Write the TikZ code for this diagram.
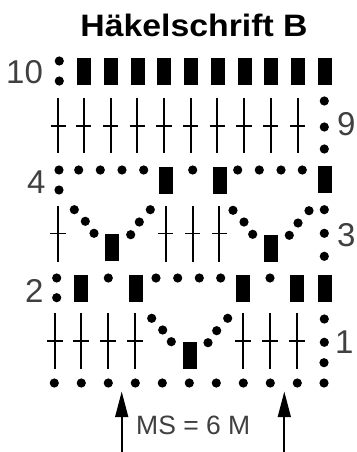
\documentclass[tikz,border=0pt]{standalone}
\usepackage{fontspec}
\setmainfont{Liberation Sans}
\tikzset{
  dotm/.style={circle,fill=black,draw=none,minimum size=9.2pt,inner sep=0pt},
  barm/.style={fill=black,draw=none},
  stline/.style={line width=1.7pt,black},
  crossl/.style={line width=1.4pt,black},
  arrowl/.style={line width=1.7pt,black},
  numl/.style={inner sep=0pt,font=\fontsize{33}{33}\selectfont,text=black!75},
  mslab/.style={inner sep=0pt,font=\fontsize{26.5}{26.5}\selectfont,text=black!75},
  titlel/.style={inner sep=0pt,xscale=1.09,font=\bfseries\fontsize{31}{31}\selectfont}
}
\newcommand{\dotsat}[1]{\foreach \px/\py in {#1} \node[dotm] at (\px,\py) {};}
\newcommand{\barsat}[3]{\foreach \px in {#1} \fill[barm] (\px,#2) rectangle (\px+14,#3);}
\newcommand{\stitches}[4]{\foreach \px in {#1} {\draw[stline] (\px,#2) -- (\px,#4);\draw[crossl] (\px-7.7,#3) -- (\px+7.7,#3);}}
\begin{document}
\begin{tikzpicture}[x=1pt,y=-1pt]
\useasboundingbox (0,0) rectangle (356,452);
\node[titlel,anchor=base] (title) at (194,37) {Häkelschrift B};
% row 10
\node[numl,anchor=base west] (n10) at (6,83) {10};
\dotsat{59.3/61,59.3/81}
\barsat{77,104,131,157,184,211,238,264,291,318}{58}{85}
% row 9
\stitches{58.3,83.7,110.7,137.3,164,190.7,217.3,244,270.7,297.7}{98}{126}{153}
\dotsat{324.3/101,324.3/127,324.3/149}
\node[numl,anchor=base west] (n9) at (337,135) {9};
% row 4
\node[numl,anchor=base west] (n4) at (27,193) {4};
\dotsat{59/170,59/190,78.7/170,100.3/170,122/170,143.7/170,192.7/170,237.7/170,259.3/170,281/170,302.3/170}
\barsat{159,213}{167}{193.7}
\barsat{318}{166}{193}
% row 3
\stitches{58,165.7,192.7,219.3}{206}{233.3}{261.7}
\dotsat{74.3/209.7,85.3/221.3,94/233.3,130.7/234.7,139.3/222,150.3/209.7,233/210.3,244/222,252.7/234.3,289.3/235.3,298/223,309/210.7,324.3/209.7,324.3/233.3,324.3/256.3}
\barsat{105}{234}{260.7}
\barsat{264}{235}{261.7}
\node[numl,anchor=base west] (n3) at (337,246) {3};
% row 2
\node[numl,anchor=base west] (n2) at (25,302) {2};
\dotsat{56.7/278,56.7/297.7,108.3/278,156/278,177.7/278,199.3/278,220.7/278,270/278}
\barsat{74,129,236,290,318}{275}{301.7}
% row 1
\stitches{55,81,108,135,243,270,297}{313.3}{341}{369.3}
\dotsat{151.7/318.3,162.7/330,171.3/341.7,208/342.7,216.7/330.7,227.7/318.3,324.3/319,324.3/342.3,324/362.7}
\barsat{183}{342}{369}
\node[numl,anchor=base west] (n1) at (335,353) {1};
% foundation chain
\dotsat{54.3/383,81.3/383,108.3/383,135.3/383,162.3/383,189.3/383,216.3/383,243.3/383,270.3/383,297.3/383,324/383}
% arrows
\coordinate (a1b) at (121.7,452);
\coordinate (a1t) at (121.7,417);
\coordinate (a2b) at (284.3,452);
\coordinate (a2t) at (284.3,417);
\draw[arrowl] (a1b) -- (a1t);
\draw[arrowl] (a2b) -- (a2t);
\fill (a1t) ++(-6.7,0) -- (121.7,391.7) -- (128.4,417) -- cycle;
\fill (a2t) ++(-6.7,0) -- (284.3,391.7) -- (291,417) -- cycle;
\node[mslab,anchor=base west] (ms) at (136,434.3) {MS = 6 M};
\end{tikzpicture}
\end{document}
